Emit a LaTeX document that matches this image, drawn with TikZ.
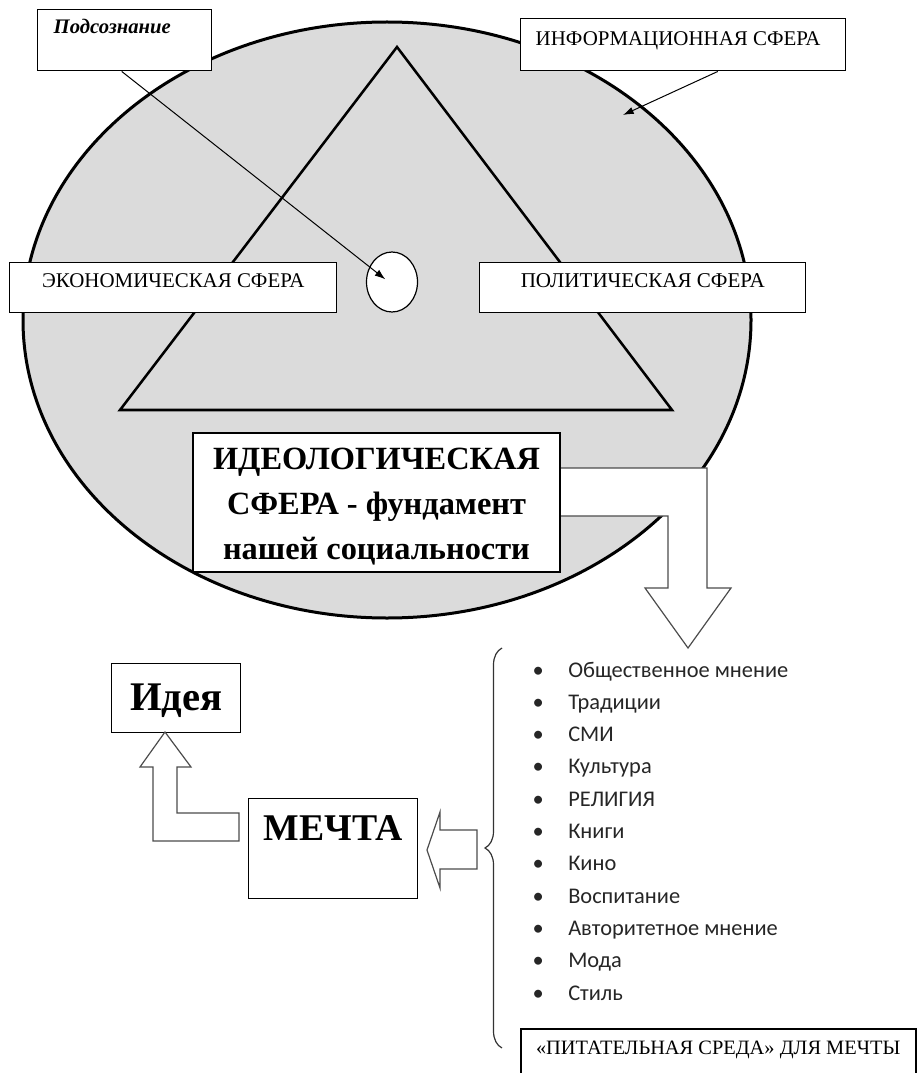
\documentclass[tikz,border=0pt]{standalone}
\usepackage{fontspec}
\setmainfont{Liberation Serif}
\newfontfamily\listfont{Carlito}
\usetikzlibrary{arrows.meta,shapes.geometric,decorations.pathreplacing}

\tikzset{
  sferabox/.style={draw, line width=1.1pt, fill=white, inner sep=0pt},
  point/.style={-{Latex[length=8pt,width=5.5pt]}, line width=0.75pt},
  hollow/.style={draw=black!70, line width=0.9pt, fill=white, line join=miter},
  punkt/.style={anchor=base west, inner sep=0pt, text=black!85,
    font=\listfont\fontsize{16.8}{19}\selectfont}
}

\begin{document}
\begin{tikzpicture}[x=0.75pt, y=-0.75pt]
  \useasboundingbox (0,0) rectangle (917,1073);

  % sphere and triangle
  \draw[fill=gray!28, line width=2.25pt] (387,320) ellipse [x radius=273pt, y radius=223.5pt];
  \draw[line width=1.9pt, line join=miter] (397,47) -- (672,410) -- (120,410) -- cycle;
  \node[draw, ellipse, fill=white, line width=0.9pt, inner sep=0pt,
        minimum width=38.25pt, minimum height=45pt] (core) at (392,282) {};

  % boxes
  \node[sferabox, anchor=north west, text height=18pt, text depth=27.75pt,
        font=\bfseries\itshape\fontsize{15.5}{17}\selectfont] (podsoz) at (37,9)
        {\makebox[130.5pt][l]{\hspace{12pt}Подсознание}};
  \node[sferabox, anchor=north west, text height=20.25pt, text depth=18.75pt,
        font=\fontsize{15.7}{18}\selectfont] (info) at (520,18)
        {\makebox[243.75pt][l]{\hspace{11.25pt}ИНФОРМАЦИОННАЯ СФЕРА}};
  \node[sferabox, anchor=north west, minimum width=245.25pt, text height=18.75pt,
        text depth=18.75pt, font=\fontsize{15.7}{18}\selectfont] (econ) at (9,262)
        {ЭКОНОМИЧЕСКАЯ СФЕРА};
  \node[sferabox, anchor=north west, minimum width=244.5pt, text height=18.75pt,
        text depth=18.75pt, font=\fontsize{15.8}{18}\selectfont] (polit) at (479,262)
        {ПОЛИТИЧЕСКАЯ СФЕРА};

  % ideological sphere
  \draw[hollow] (560,468) -- (707,468) -- (707,588) -- (731,588) -- (688,648)
        -- (645,588) -- (668,588) -- (668,516) -- (560,516) -- cycle;
  \node[sferabox, line width=0.9pt, minimum width=275.25pt, minimum height=104.25pt,
        align=center, font=\bfseries\fontsize{24.3}{33.75}\selectfont] (ideo) at (376.5,502.5)
        {\rule{0pt}{22pt}ИДЕОЛОГИЧЕСКАЯ\\СФЕРА - фундамент\\нашей социальности};

  \draw[point] ([xshift=-2.25pt]podsoz.south) -- ([xshift=-5pt,yshift=2pt]core.center);
  \coordinate (infotip) at (623,115);
  \draw[point] ([xshift=25.9pt]info.south) -- (infotip);

  % dream and idea
  \node[sferabox, anchor=north west, minimum width=96.75pt, text height=35.25pt,
        text depth=16.5pt, font=\bfseries\fontsize{30.5}{34}\selectfont] (idea) at (111,663) {Идея};
  \node[sferabox, anchor=north west, minimum width=126.75pt, text height=31.5pt,
        text depth=43.5pt, font=\bfseries\fontsize{28.3}{32}\selectfont] (dream) at (248,798) {МЕЧТА};
  \draw[hollow] (239,813) -- (177,813) -- (177,767) -- (191,767) -- (165,732)
        -- (140,767) -- (153,767) -- (153,841) -- (239,841) -- cycle;
  \draw[hollow] (477,830) -- (440,830) -- (440,812) -- (427,850) -- (440,888)
        -- (440,869) -- (477,869) -- cycle;

  % feeding medium
  \coordinate (bracelow) at (502,1048);
  \coordinate (bracetop) at (502,648);
  \draw[decorate, decoration={brace, amplitude=12.75pt}, line width=0.9pt, black!80]
        (bracelow) -- (bracetop);
  \foreach \txt [count=\i from 0] in {Общественное мнение, Традиции, СМИ, Культура,
      РЕЛИГИЯ, Книги, Кино, Воспитание, Авторитетное мнение, Мода, Стиль}
    \node[punkt] (item\i) at (568,677+32.3*\i)
      {\llap{\makebox[0pt]{\textbullet}\hspace{22.5pt}}\txt};
  \node[sferabox, anchor=north west, line width=1.5pt, text height=18.75pt,
        text depth=20.25pt, font=\fontsize{15.3}{17}\selectfont] (pitat) at (520,1028)
        {\makebox[296.25pt][l]{\hspace{11.25pt}«ПИТАТЕЛЬНАЯ СРЕДА» ДЛЯ МЕЧТЫ}};
\end{tikzpicture}
\end{document}
